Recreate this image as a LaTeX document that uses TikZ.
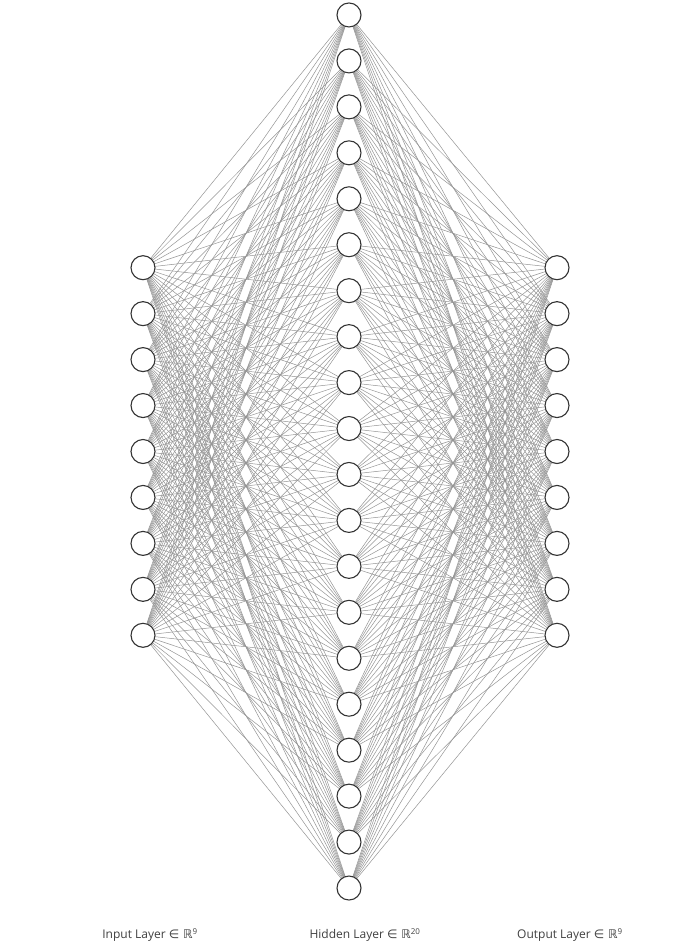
\documentclass[tikz,border=0pt]{standalone}
\usepackage{fontspec}
\setmainfont{Open Sans}
\newfontfamily\symfont{DejaVu Sans}
\usetikzlibrary{backgrounds}
\begin{document}
\begin{tikzpicture}[x=1pt,y=-1pt,
  neuron/.style={circle,draw=black!80,line width=1.1pt,fill=white,minimum size=24pt,inner sep=0pt},
  synapse/.style={draw=black!42,line width=0.5pt},
  layerlabel/.style={font=\fontsize{12}{14}\selectfont\addfontfeatures{Weight=Light},text=black!75}]
\useasboundingbox (0,0) rectangle (678,951);
\def\sp{45.95}
\foreach \i in {1,...,9} \node[neuron] (i\i) at (143,{451.5+(\i-5)*\sp}) {};
\foreach \j in {1,...,20} \node[neuron] (h\j) at (349,{451.5+(\j-10.5)*\sp}) {};
\foreach \k in {1,...,9} \node[neuron] (o\k) at (557,{451.5+(\k-5)*\sp}) {};
\begin{scope}[on background layer]
\foreach \i in {1,...,9} \foreach \j in {1,...,20} \draw[synapse] (i\i) -- (h\j);
\foreach \j in {1,...,20} \foreach \k in {1,...,9} \draw[synapse] (h\j) -- (o\k);
\end{scope}
\node[layerlabel] (li) at (150,935) {Input Layer {\symfont ∈ ℝ}\textsuperscript{9}};
\node[layerlabel] (lh) at (365,935) {Hidden Layer {\symfont ∈ ℝ}\textsuperscript{20}};
\node[layerlabel] (lo) at (570,935) {Output Layer {\symfont ∈ ℝ}\textsuperscript{9}};
\end{tikzpicture}
\end{document}
